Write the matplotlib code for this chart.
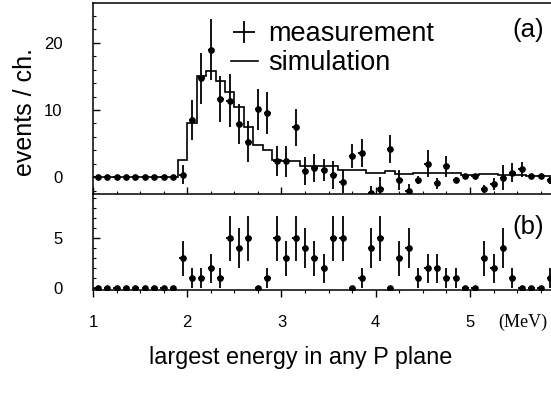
import numpy as np
import matplotlib
matplotlib.use("Agg")
import matplotlib.pyplot as plt
from matplotlib.ticker import MultipleLocator
from matplotlib.lines import Line2D

plt.rcParams['font.family'] = ['Liberation Sans', 'DejaVu Sans']

# bin centres (MeV)
energy = np.round(np.arange(1.05, 5.9, 0.1), 2)

# panel (a): measurement
meas_a = [0, 0, 0, 0, 0, 0, 0, 0, 0,
          0.4, 8.5, 14.7, 19.0, 11.6, 11.4, 7.9, 5.3, 10.1, 9.6, 2.4,
          2.4, 7.4, 0.9, 1.4, 1.1, 0.3, -0.7, 3.2, 3.6, -2.3,
          -1.7, 4.2, -0.45, -2.0, -0.4, 2.0, -0.9, 1.6, -0.45, 0.15,
          0.15, -1.7, -0.95, -0.05, 0.65, 1.2, 0.15, 0.15, -0.45]
err_a = [0, 0, 0, 0, 0, 0, 0, 0, 0,
         1.4, 3.0, 3.8, 4.5, 3.4, 3.9, 3.0, 3.0, 3.1, 3.1, 2.2,
         2.3, 2.7, 2.1, 2.1, 1.6, 2.1, 1.7, 1.8, 2.1, 1.0,
         1.7, 2.1, 1.5, 1.0, 0.6, 2.0, 0.8, 1.5, 0.45, 0.3,
         0.3, 0.6, 0.9, 1.8, 1.4, 1.1, 0.3, 0.3, 0.5]

# panel (a): simulation histogram (per bin)
sim_a = [0, 0, 0, 0, 0, 0, 0, 0, 0,
         2.5, 8.0, 15.0, 15.8, 14.3, 12.7, 10.5, 7.4, 4.8, 4.0, 2.5,
         2.4, 2.4, 1.7, 1.7, 1.7, 1.7, 1.05, 1.05, 1.05, 0.65,
         0.65, 0.9, 0.5, 0.5, 0.65, 0.65, 0.65, 0.6, 0.6, 0.4,
         0.4, 0.55, 0.55, 0.35, 0.3, 0.3, 0.25, 0.25, 0.25]

# panel (b): counts
meas_b = [0, 0, 0, 0, 0, 0, 0, 0, 0,
          3, 1, 1, 2, 1, 5, 4, 5, 0, 1, 5,
          3, 5, 4, 3, 2, 5, 5, 0, 1, 4,
          5, 0, 3, 4, 1, 2, 2, 1, 1, 0,
          0, 3, 2, 4, 1, 0, 0, 0, 1]

bin_width = 0.1
xlim = (1.0, 5.86)

fig = plt.figure(figsize=(5.51, 4.00), dpi=100)
axA = fig.add_axes([0.1688, 0.515, 0.8312, 0.477])
axB = fig.add_axes([0.1688, 0.275, 0.8312, 0.240], sharex=axA)

energy = np.asarray(energy)
meas_a = np.asarray(meas_a); err_a = np.asarray(err_a)
sim_a = np.asarray(sim_a); meas_b = np.asarray(meas_b)
err_b = np.sqrt(meas_b)

# simulation step histogram
edges = np.round(np.append(energy - bin_width / 2, energy[-1] + bin_width / 2), 3)
axA.stairs(sim_a, edges, color='black', lw=1.2, baseline=None)

ebkw = dict(fmt='o', color='black', ms=3.8, elinewidth=1.3, capsize=0, xerr=0.035)
axA.errorbar(energy, meas_a, yerr=np.where(err_a > 0, err_a, np.nan), **ebkw)
axB.errorbar(energy, meas_b, yerr=np.where(err_b > 0, err_b, np.nan), **ebkw)

axA.set_xlim(*xlim)
axA.set_ylim(-2.5, 25.9)
axB.set_ylim(-0.15, 9.37)

for ax in (axA, axB):
    ax.spines['right'].set_visible(False)
    for s in ax.spines.values():
        s.set_linewidth(1.1)
    ax.xaxis.set_major_locator(MultipleLocator(1))
    ax.xaxis.set_minor_locator(MultipleLocator(0.25))
    ax.tick_params(axis='x', which='major', direction='out', length=5, width=1, labelsize=12)
    ax.tick_params(axis='x', which='minor', direction='out', length=2.5, width=0.8)
    ax.tick_params(axis='y', which='major', direction='in', length=5, width=1,
                   labelsize=12, pad=22)
    ax.tick_params(axis='y', which='minor', direction='in', length=2.5, width=0.8)

axA.spines['bottom'].set_visible(False)
axB.spines['top'].set_linewidth(1.1)
axA.tick_params(axis='x', labelbottom=False)
axA.yaxis.set_major_locator(MultipleLocator(10))
axA.yaxis.set_minor_locator(MultipleLocator(2))
axB.yaxis.set_major_locator(MultipleLocator(5))
axB.yaxis.set_minor_locator(MultipleLocator(1))
axB.set_xticks([1, 2, 3, 4, 5])
axB.set_xticklabels(['1', '2', '3', '4', '5'])
axB.tick_params(axis='x', pad=13)
axB.tick_params(axis='x', which='both', top=True, direction='out')

# legend
h_meas = Line2D([], [], color='black', marker='+', ms=16, mew=1.3, lw=0)
h_sim = Line2D([], [], color='black', lw=1.2)
axA.legend([h_meas, h_sim], ['measurement', 'simulation'], loc='upper left',
           bbox_to_anchor=(0.265, 0.99), frameon=False, fontsize=19.5,
           handlelength=1.0, handletextpad=0.4, labelspacing=0.1, borderaxespad=0.2)

axA.text(0.985, 0.86, '(a)', transform=axA.transAxes, ha='right', va='center', fontsize=18.5)
axB.text(0.985, 0.66, '(b)', transform=axB.transAxes, ha='right', va='center', fontsize=18.5)
axB.text(0.993, -0.34, '(MeV)', transform=axB.transAxes, ha='right', va='center',
         fontsize=13, family=['Liberation Serif', 'DejaVu Serif'])

fig.text(0.045, 0.72, 'events / ch.', rotation=90, ha='center', va='center', fontsize=18)
fig.text(0.546, 0.107, 'largest energy in any P plane', ha='center', va='center', fontsize=16.8)

fig.savefig('out.png', dpi=100)
